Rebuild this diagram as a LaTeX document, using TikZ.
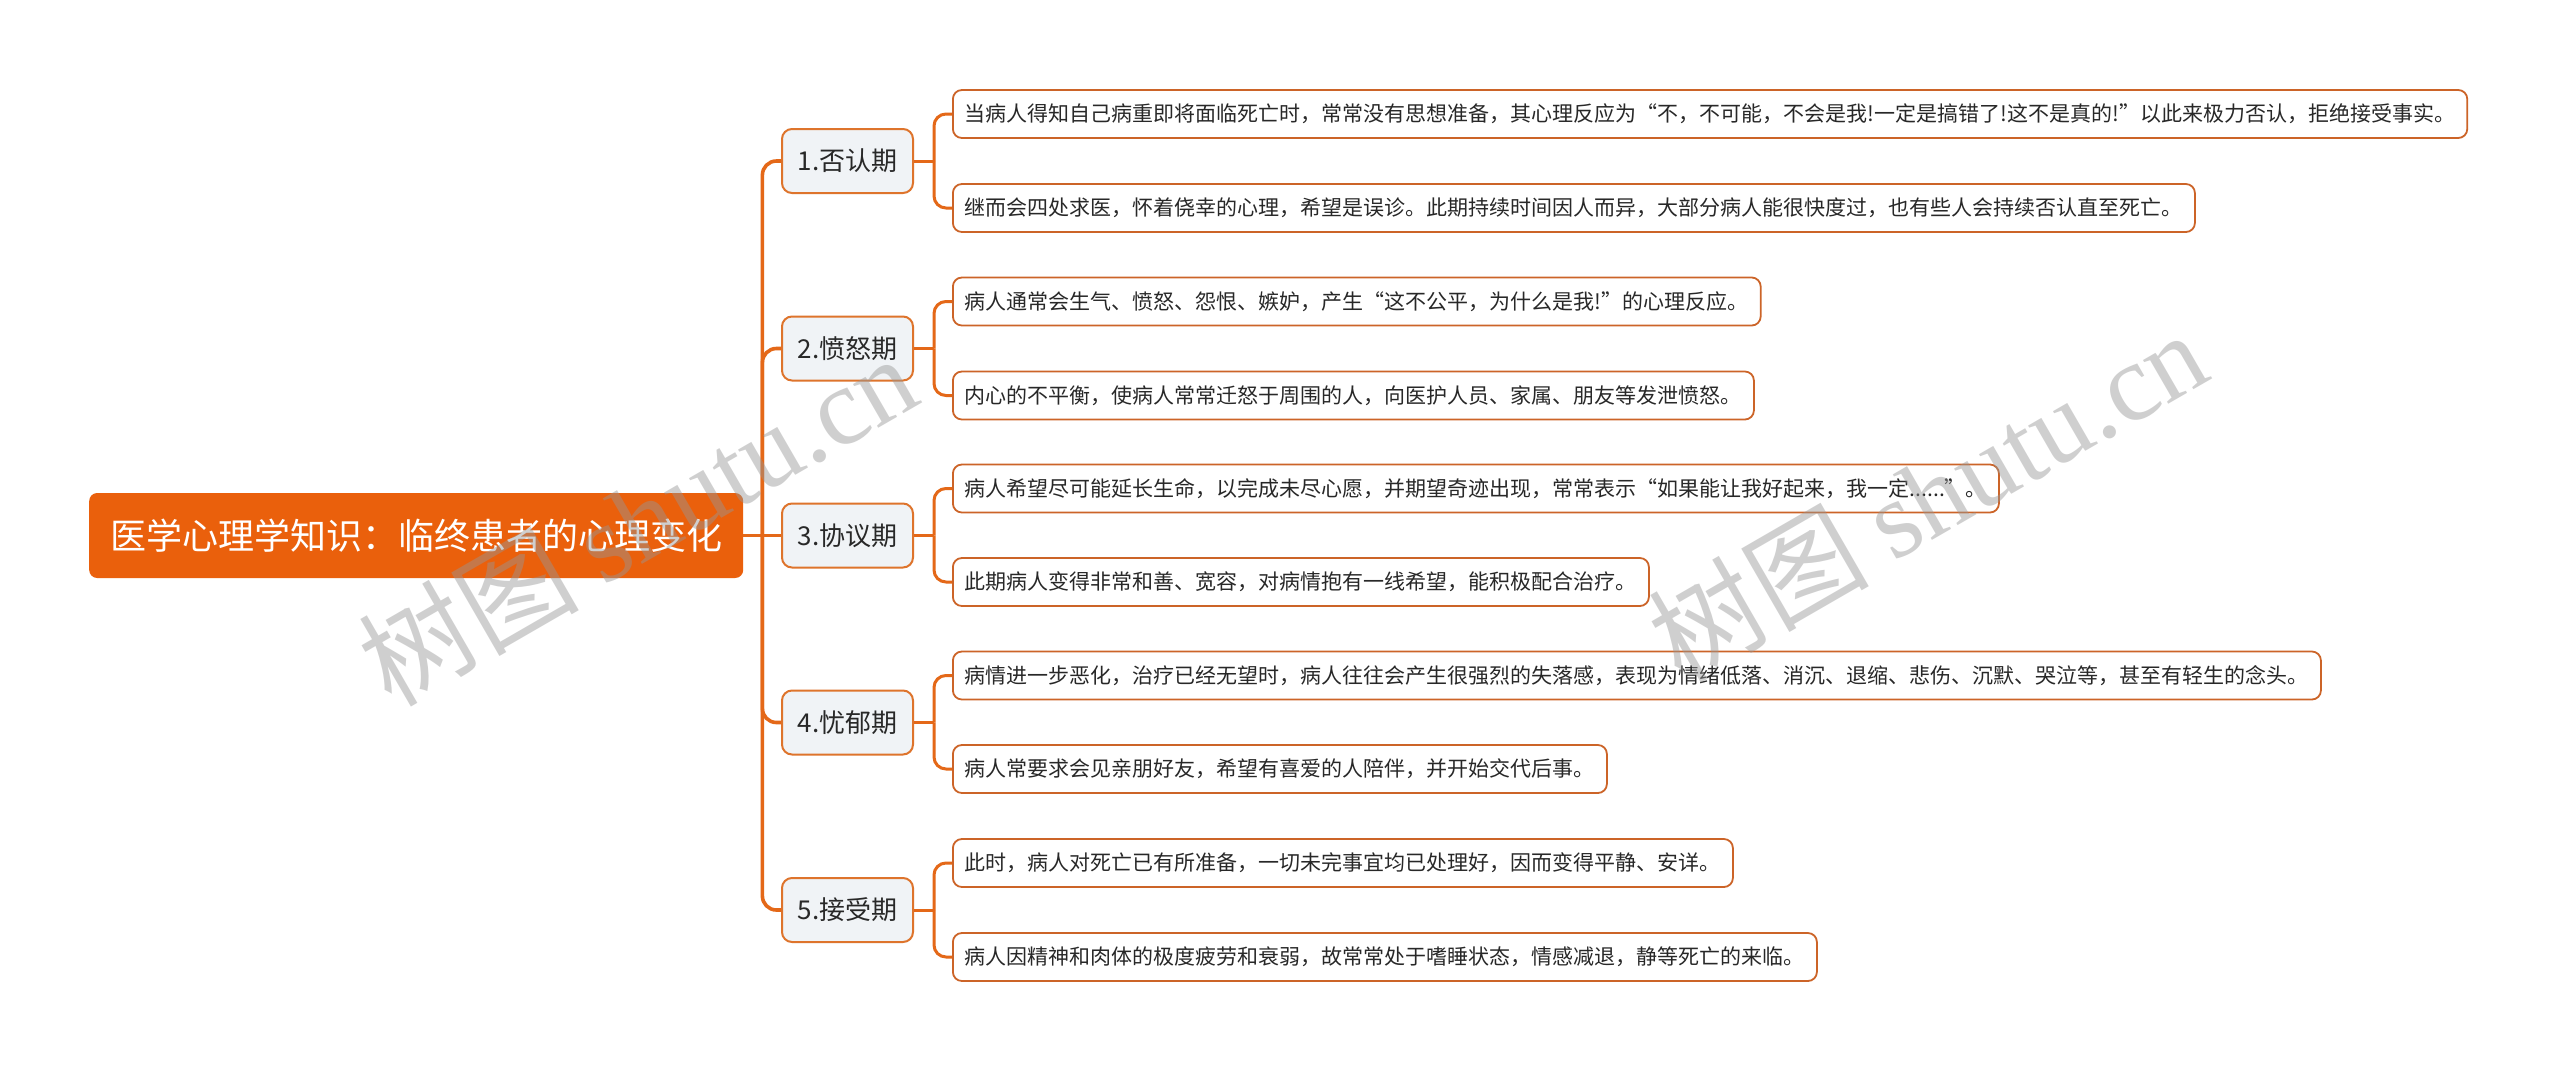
\documentclass[tikz,border=0pt]{standalone}
\usepackage{fontspec}
\setmainfont{Noto Sans CJK SC}
\newfontfamily\wmserif{Liberation Serif}
\usetikzlibrary{calc}
\definecolor{rootorange}{RGB}{234,96,12}
\definecolor{lineorange}{RGB}{228,104,24}
\definecolor{lonebord}{RGB}{222,116,44}
\definecolor{lonefill}{RGB}{240,243,246}
\definecolor{leafbord}{RGB}{204,100,40}
\definecolor{textdark}{RGB}{40,40,40}
\definecolor{wmgray}{RGB}{150,150,150}
\tikzset{
  rootbox/.style={fill=rootorange, rounded corners=8pt, text=white,
    font=\fontsize{36}{40}\selectfont, minimum height=85pt, inner xsep=21pt, anchor=west},
  lonebox/.style={draw=lonebord, line width=2pt, fill=lonefill, rounded corners=10pt,
    font=\fontsize{26}{30}\selectfont, minimum height=64pt, minimum width=131pt,
    inner xsep=4pt, anchor=west, text=textdark},
  leafbox/.style={draw=leafbord, line width=1.8pt, fill=white, rounded corners=9pt,
    font=\fontsize{21}{25}\selectfont, minimum height=48pt, inner xsep=12pt,
    anchor=west, text=textdark},
  conn/.style={draw=lineorange, line width=3.6pt, rounded corners=14pt},
  conntwo/.style={draw=lineorange, line width=3pt, rounded corners=12pt},
  wmark/.style={text=wmgray, opacity=0.45, rotate=30, font=\fontsize{110}{120}\selectfont}
}
\begin{document}
\begin{tikzpicture}[x=1pt,y=-1pt]
\useasboundingbox[fill=white] (0,0) rectangle (2560,1071);

\node[rootbox] (root) at (89,535.5) {医学心理学知识：临终患者的心理变化};

\node[lonebox] (p1) at (781,161) {1.否认期};
\node[lonebox] (p2) at (781,348.5) {2.愤怒期};
\node[lonebox] (p3) at (781,535.5) {3.协议期};
\node[lonebox] (p4) at (781,722.5) {4.忧郁期};
\node[lonebox] (p5) at (781,910) {5.接受期};

\node[leafbox] (a1) at (952,114) {当病人得知自己病重即将面临死亡时，常常没有思想准备，其心理反应为“不，不可能，不会是我!一定是搞错了!这不是真的!”以此来极力否认，拒绝接受事实。};
\node[leafbox] (b1) at (952,208) {继而会四处求医，怀着侥幸的心理，希望是误诊。此期持续时间因人而异，大部分病人能很快度过，也有些人会持续否认直至死亡。};
\node[leafbox] (a2) at (952,301.5) {病人通常会生气、愤怒、怨恨、嫉妒，产生“这不公平，为什么是我!”的心理反应。};
\node[leafbox] (b2) at (952,395.5) {内心的不平衡，使病人常常迁怒于周围的人，向医护人员、家属、朋友等发泄愤怒。};
\node[leafbox] (a3) at (952,488.5) {病人希望尽可能延长生命，以完成未尽心愿，并期望奇迹出现，常常表示“如果能让我好起来，我一定......”。};
\node[leafbox] (b3) at (952,582) {此期病人变得非常和善、宽容，对病情抱有一线希望，能积极配合治疗。};
\node[leafbox] (a4) at (952,675.5) {病情进一步恶化，治疗已经无望时，病人往往会产生很强烈的失落感，表现为情绪低落、消沉、退缩、悲伤、沉默、哭泣等，甚至有轻生的念头。};
\node[leafbox] (b4) at (952,769) {病人常要求会见亲朋好友，希望有喜爱的人陪伴，并开始交代后事。};
\node[leafbox] (a5) at (952,863) {此时，病人对死亡已有所准备，一切未完事宜均已处理好，因而变得平静、安详。};
\node[leafbox] (b5) at (952,957) {病人因精神和肉体的极度疲劳和衰弱，故常常处于嗜睡状态，情感减退，静等死亡的来临。};

% trunk
\coordinate (tr) at ([xshift=19pt]root.east);
\draw[conn] (root.east) -- (p3.west);
\foreach \p in {p1,p2,p4,p5} \draw[conn] (tr) |- (\p.west);

% second level
\foreach \i in {1,...,5} {
  \coordinate (j\i) at ([xshift=20pt]p\i.east);
  \draw[conntwo] (p\i.east) -- (j\i);
  \draw[conntwo] (j\i) |- (a\i.west);
  \draw[conntwo] (j\i) |- (b\i.west);
}

% watermarks
\node[wmark] (wm1) at (637,519) {树图 {\wmserif shutu.cn}};
\node[wmark] (wm2) at (1927,495) {树图 {\wmserif shutu.cn}};
\end{tikzpicture}
\end{document}
